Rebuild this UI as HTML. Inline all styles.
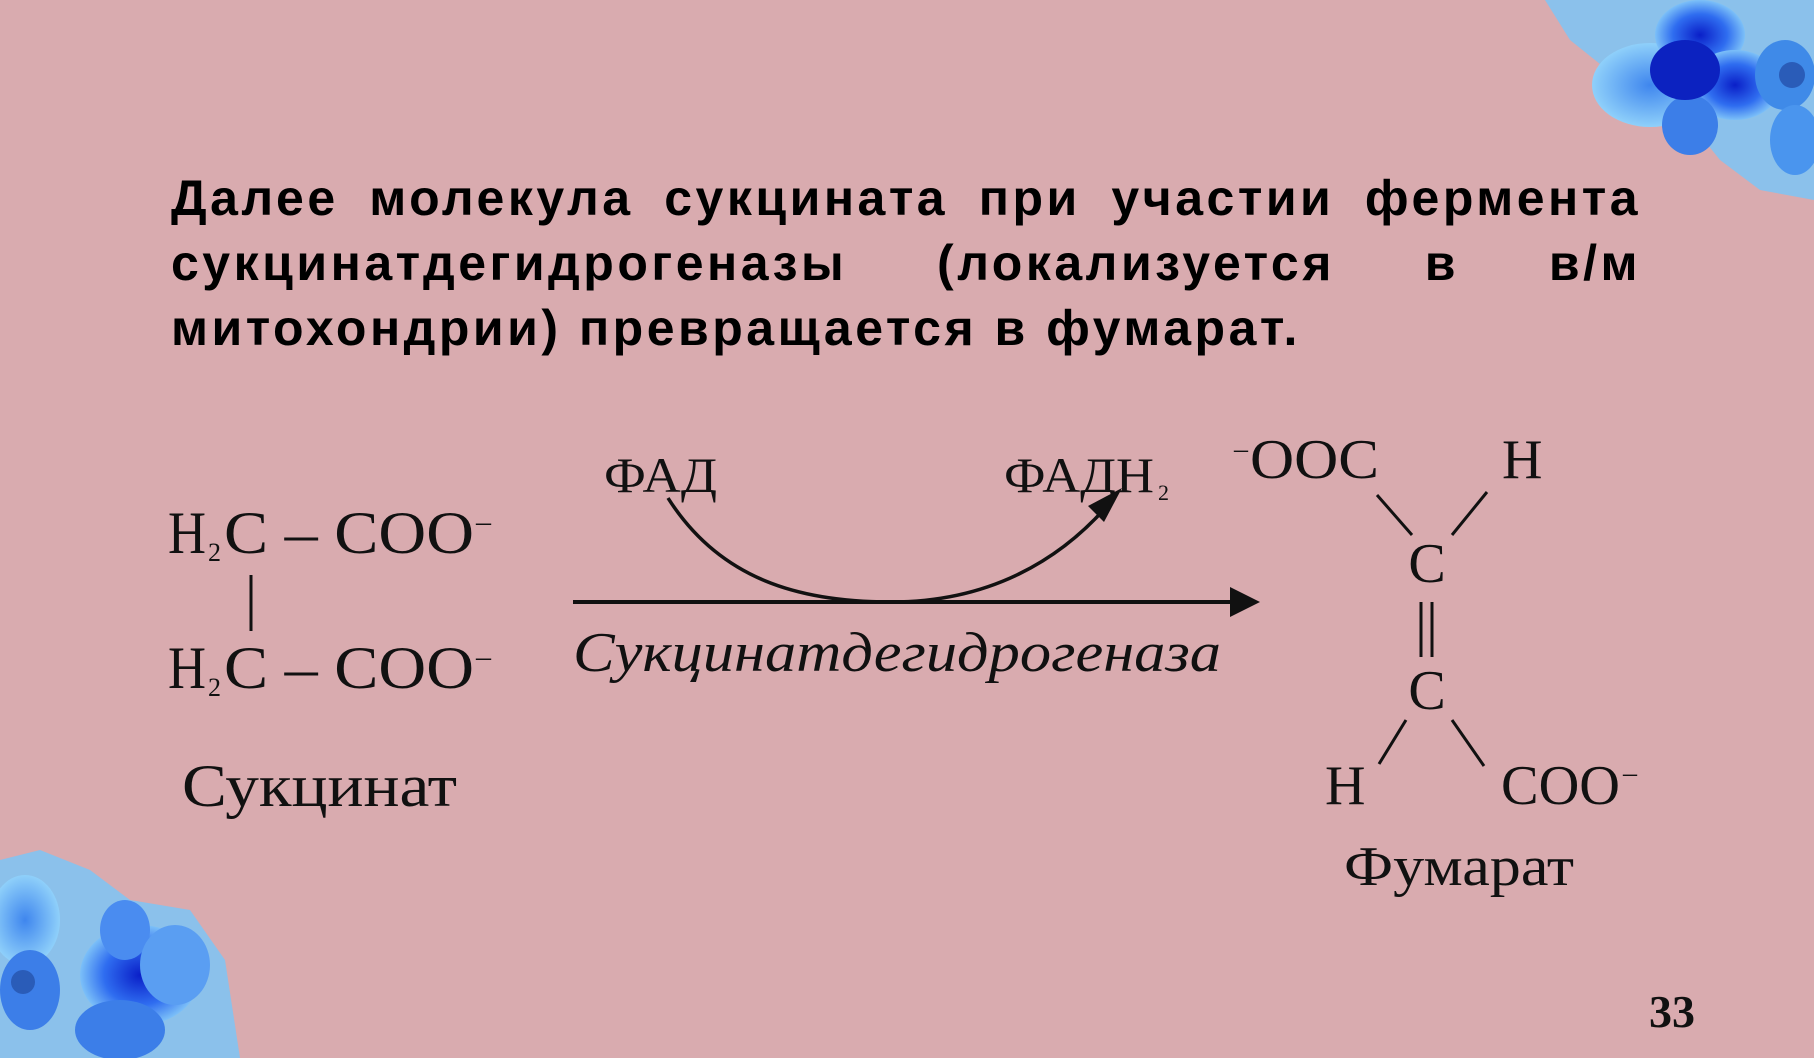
<!DOCTYPE html>
<html><head><meta charset="utf-8"><style>
html,body{margin:0;padding:0;}
body{width:1814px;height:1058px;background:#d9abaf;overflow:hidden;position:relative;}
svg{position:absolute;left:0;top:0;}
.t{position:absolute;left:171px;width:1470px;font-family:"Liberation Sans",sans-serif;font-weight:bold;font-size:50px;line-height:65px;color:#000;letter-spacing:3.5px;white-space:nowrap;}
.j{text-align:justify;text-align-last:justify;}
</style></head><body>
<svg width="1814" height="1058" viewBox="0 0 1814 1058">
<defs>
<radialGradient id="g1" cx="50%" cy="50%" r="50%"><stop offset="0" stop-color="#0a1fc8"/><stop offset="0.6" stop-color="#2f6df0"/><stop offset="1" stop-color="#7cc0f8"/></radialGradient>
<radialGradient id="g2" cx="50%" cy="50%" r="50%"><stop offset="0" stop-color="#3f86ee"/><stop offset="1" stop-color="#8fd0fa"/></radialGradient>
</defs>
<g>
<path d="M1545 0 L1814 0 L1814 200 L1760 190 L1720 160 L1680 110 L1620 80 L1570 40 Z" fill="#7cc4f6" opacity="0.85"/>
<ellipse cx="1650" cy="85" rx="58" ry="42" fill="url(#g2)"/>
<ellipse cx="1700" cy="35" rx="45" ry="35" fill="url(#g1)"/>
<ellipse cx="1735" cy="85" rx="45" ry="35" fill="url(#g1)"/>
<ellipse cx="1690" cy="125" rx="28" ry="30" fill="#3c7ee8"/>
<ellipse cx="1685" cy="70" rx="35" ry="30" fill="#0c22c0"/>
<ellipse cx="1785" cy="75" rx="30" ry="35" fill="#3f8ae8"/>
<circle cx="1792" cy="75" r="13" fill="#2a5cb8"/>
<ellipse cx="1795" cy="140" rx="25" ry="35" fill="#4a95ee"/>
</g>
<g>
<path d="M0 860 L40 850 L90 870 L130 900 L190 910 L225 960 L240 1058 L0 1058 Z" fill="#7cc4f6" opacity="0.85"/>
<ellipse cx="25" cy="920" rx="35" ry="45" fill="url(#g2)"/>
<ellipse cx="30" cy="990" rx="30" ry="40" fill="#3c7ee8"/>
<circle cx="23" cy="982" r="12" fill="#2a5cb8"/>
<ellipse cx="140" cy="975" rx="60" ry="50" fill="url(#g1)"/>
<ellipse cx="125" cy="930" rx="25" ry="30" fill="#4a8cf0"/>
<ellipse cx="120" cy="1030" rx="45" ry="30" fill="#3c7ee8"/>
<ellipse cx="175" cy="965" rx="35" ry="40" fill="#5a9ef2"/>
</g>
<g font-family="'Liberation Serif',serif" fill="#111">
<text x="168" y="553" font-size="60" textLength="38" lengthAdjust="spacingAndGlyphs">H</text><text x="208" y="561" font-size="26">2</text>
<text x="224" y="553" font-size="60" textLength="250" lengthAdjust="spacingAndGlyphs">C – COO</text>
<text x="476" y="531" font-size="30">–</text>
<line x1="251" y1="575" x2="251" y2="631" stroke="#111" stroke-width="3"/>
<text x="168" y="688" font-size="60" textLength="38" lengthAdjust="spacingAndGlyphs">H</text><text x="208" y="696" font-size="26">2</text>
<text x="224" y="688" font-size="60" textLength="250" lengthAdjust="spacingAndGlyphs">C – COO</text>
<text x="476" y="666" font-size="30">–</text>
<text x="182" y="806" font-size="60" textLength="275" lengthAdjust="spacingAndGlyphs">Сукцинат</text>
<text x="604" y="492" font-size="50" textLength="113" lengthAdjust="spacingAndGlyphs">ФАД</text>
<text x="1004" y="492" font-size="50" textLength="150" lengthAdjust="spacingAndGlyphs">ФАДН</text>
<text x="1158" y="500" font-size="22">2</text>
<path d="M668 498 C720 580 800 602 891 602 C990 602 1060 560 1108 505" fill="none" stroke="#111" stroke-width="3.5"/>
<polygon points="1122,488 1104,522 1088,506" fill="#111"/>
<line x1="573" y1="602" x2="1235" y2="602" stroke="#111" stroke-width="4"/>
<polygon points="1260,602 1230,587 1230,617" fill="#111"/>
<text x="573" y="671" font-size="56" font-style="italic" textLength="648" lengthAdjust="spacingAndGlyphs">Сукцинатдегидрогеназа</text>
<text x="1234" y="458" font-size="28">–</text>
<text x="1250" y="478" font-size="56" textLength="129" lengthAdjust="spacingAndGlyphs">OOC</text>
<text x="1502" y="478" font-size="56">H</text>
<line x1="1377" y1="495" x2="1412" y2="535" stroke="#111" stroke-width="3"/>
<line x1="1487" y1="492" x2="1452" y2="535" stroke="#111" stroke-width="3"/>
<text x="1427" y="582" font-size="56" text-anchor="middle">C</text>
<line x1="1421" y1="602" x2="1421" y2="657" stroke="#111" stroke-width="3"/>
<line x1="1432" y1="602" x2="1432" y2="657" stroke="#111" stroke-width="3"/>
<text x="1427" y="709" font-size="56" text-anchor="middle">C</text>
<line x1="1406" y1="720" x2="1379" y2="764" stroke="#111" stroke-width="3"/>
<line x1="1452" y1="720" x2="1484" y2="766" stroke="#111" stroke-width="3"/>
<text x="1325" y="804" font-size="56">H</text>
<text x="1501" y="804" font-size="56" textLength="119" lengthAdjust="spacingAndGlyphs">COO</text>
<text x="1623" y="782" font-size="28">–</text>
<text x="1344" y="885" font-size="56" textLength="230" lengthAdjust="spacingAndGlyphs">Фумарат</text>
<text x="1649" y="1027" font-size="46" font-weight="bold">33</text>
</g>
</svg>
<div class="t j" style="top:166px">Далее молекула сукцината при участии фермента</div>
<div class="t j" style="top:231px">сукцинатдегидрогеназы (локализуется в в/м</div>
<div class="t" style="top:296px">митохондрии) превращается в фумарат.</div>
</body></html>
